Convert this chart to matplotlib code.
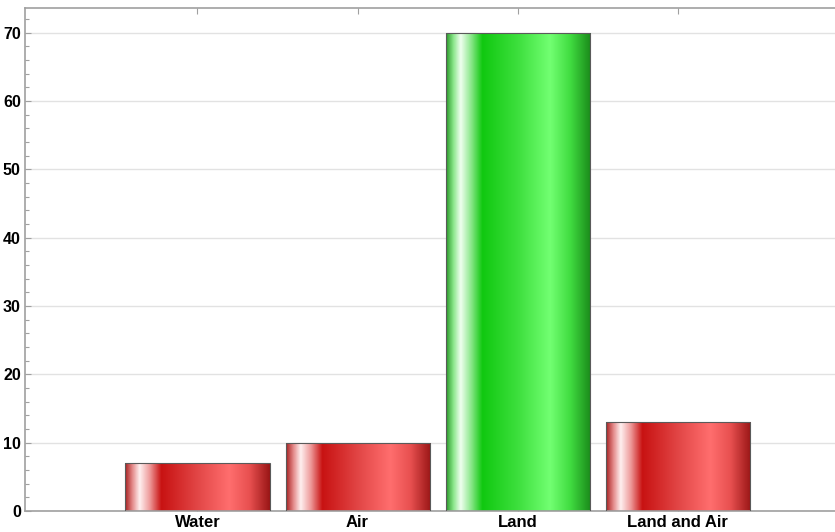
import numpy as np
import matplotlib
matplotlib.use("Agg")
import matplotlib.pyplot as plt
from matplotlib.colors import LinearSegmentedColormap
from matplotlib.ticker import MultipleLocator

categories = ["Water", "Air", "Land", "Land and Air"]
values = [7, 10, 70, 13]
highlight = [False, False, True, False]

plt.rcParams["font.family"] = ["Liberation Sans", "DejaVu Sans"]

# Cylinder-like horizontal shading for the bars
red_stops = [(0.0, "#a82222"), (0.05, "#e48a8a"), (0.10, "#fff0f0"),
             (0.17, "#ee9a9a"), (0.25, "#c81212"), (0.50, "#e24646"),
             (0.72, "#ff6e6e"), (0.86, "#e85050"), (1.0, "#9a1616")]
green_stops = [(0.0, "#2a9a2a"), (0.05, "#8ae68a"), (0.10, "#f0fff0"),
               (0.17, "#8ee88e"), (0.25, "#10c810"), (0.50, "#3ee03e"),
               (0.72, "#72ff72"), (0.86, "#40dc40"), (1.0, "#1a8a1a")]
red_cmap = LinearSegmentedColormap.from_list("red_cyl", red_stops)
green_cmap = LinearSegmentedColormap.from_list("green_cyl", green_stops)

fig = plt.figure(figsize=(8.35, 5.32), dpi=100)
ax = fig.add_axes([25 / 835, 21 / 532, 1 - 25 / 835, 503 / 532])

x = np.arange(len(categories))
bars = ax.bar(x, values, width=0.9, facecolor="none", edgecolor="#5a5a5a",
              linewidth=0.8, zorder=3)

grad = np.linspace(0, 1, 256).reshape(1, -1)
for bar, hl in zip(bars, highlight):
    x0, w, h = bar.get_x(), bar.get_width(), bar.get_height()
    im = ax.imshow(grad, cmap=green_cmap if hl else red_cmap, aspect="auto",
                   extent=(x0, x0 + w, 0, h), interpolation="bilinear",
                   zorder=2)
    im.set_clip_path(bar)

ax.set_xlim(-1.078, 3.984)
ax.set_ylim(0, 73.6)
ax.set_xticks(x)
ax.set_xticklabels(categories)
ax.yaxis.set_major_locator(MultipleLocator(10))
ax.yaxis.set_minor_locator(MultipleLocator(2))

ax.grid(axis="y", color="#e2e2e2", linewidth=1.0, zorder=0)
ax.set_axisbelow(True)

for side in ("left", "top", "bottom"):
    ax.spines[side].set_color("#a0a0a0")
    ax.spines[side].set_linewidth(1.2)
ax.spines["right"].set_visible(False)

ax.tick_params(axis="x", direction="in", length=4, width=0.8, color="#a0a0a0",
               top=True, bottom=True, pad=3, labelsize=12)
ax.tick_params(axis="y", which="major", direction="in", length=4, width=0.8,
               color="#a0a0a0", pad=3, labelsize=11.5)
ax.tick_params(axis="y", which="minor", direction="in", length=3, width=0.8,
               color="#a0a0a0")
for lbl in ax.get_xticklabels() + ax.get_yticklabels():
    lbl.set_fontweight("bold")

fig.savefig("out.png", dpi=100)
